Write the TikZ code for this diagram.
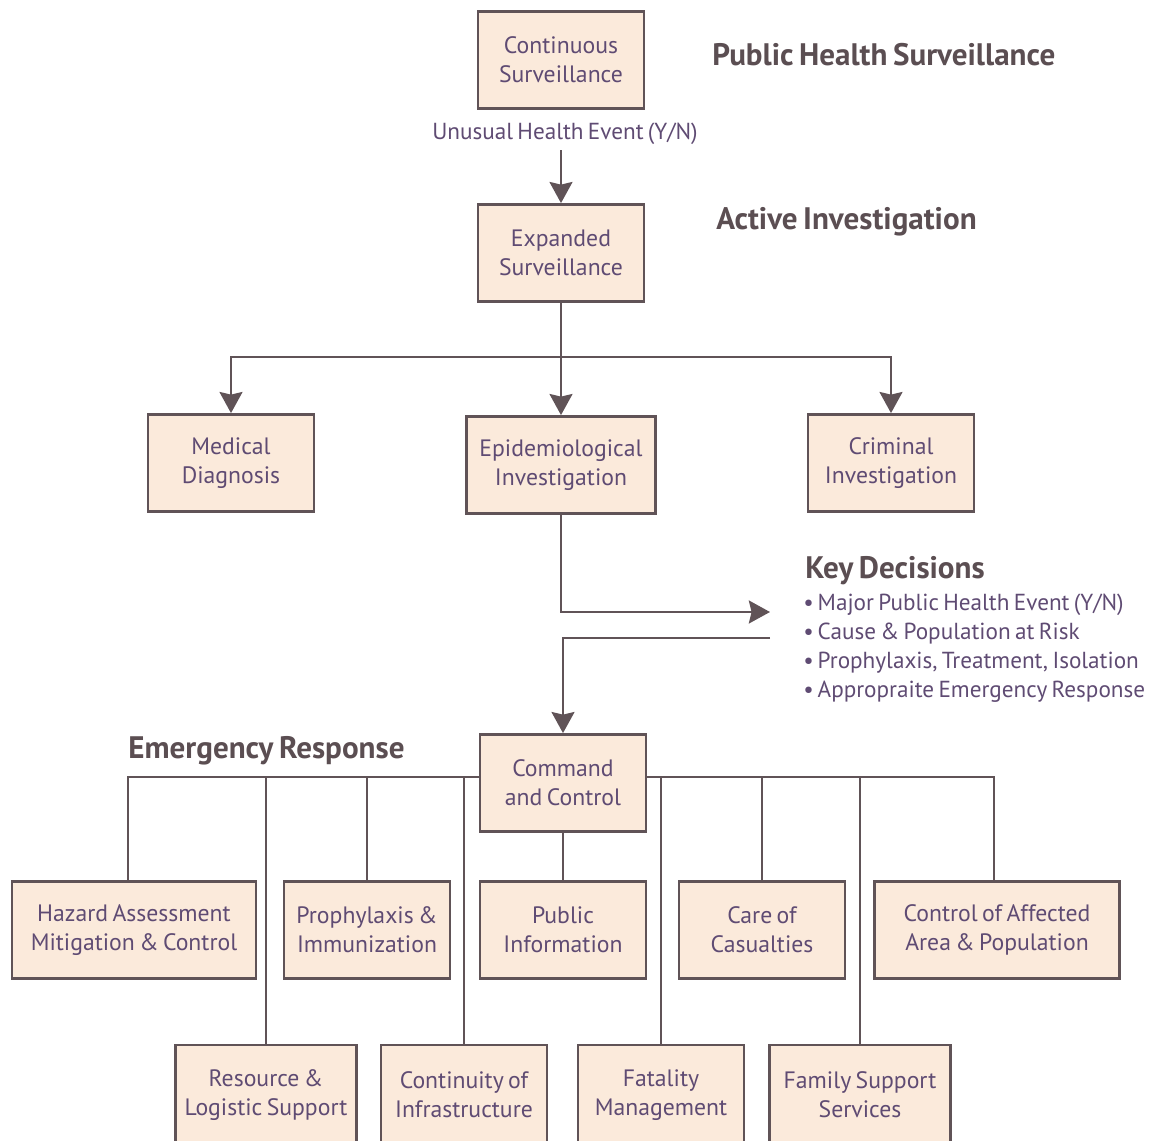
\documentclass[tikz,border=0pt]{standalone}
\usepackage{fontspec}
\setmainfont{PT Sans}[WordSpace=0.7]
\usetikzlibrary{arrows.meta}
\usetikzlibrary{positioning}
\usetikzlibrary{calc}
\usetikzlibrary{backgrounds}

\definecolor{boxfill}{HTML}{FBEADB}
\definecolor{boxline}{HTML}{605357}
\definecolor{boxtext}{HTML}{5F4B73}
\definecolor{headtext}{HTML}{5B4E52}

\begin{document}
\begin{tikzpicture} [x=0.02cm, y=-0.02cm,
      box/.style={draw=boxline, fill=boxfill, line width=1.6pt, text=boxtext,
          align=center, minimum width=3.32cm, minimum height=1.94cm, inner sep=0pt,
          font=\fontsize{13.5}{16.5}\selectfont},
      heading/.style={anchor=west, text=headtext, inner sep=0pt,
          font=\fontsize{17.7}{21}\selectfont\bfseries},
      plain/.style={text=boxtext, inner sep=0pt, font=\fontsize{13.2}{16.5}\selectfont},
      link/.style={draw=boxline, line width=1.6pt},
      arr/.style={link, -{Stealth[inset=1.5pt, length=12pt, width=13pt]}}]
    \useasboundingbox (0,0) rectangle (1159,1141);

    % surveillance
    \node[box] (cont) at (561,60) {Continuous\\Surveillance};
    \node[plain] (unusual) at (565,134) {Unusual Health Event (Y/N)};
    \node[heading] (phs) at (712,55) {Public Health Surveillance};
    \node[box] (exp) at (561,253) {Expanded\\Surveillance};
    \node[heading] (ai) at (716,222) {Active Investigation};

    % investigation
    \node[box] (med) at (231,463) {Medical\\Diagnosis};
    \node[box, minimum width=3.78cm] (epi) at (561,465) {Epidemiological\\Investigation};
    \node[box] (crim) at (891,463) {Criminal\\Investigation};

    % key decisions
    \node[heading] (kd) at (805,571) {Key Decisions};
    \node[plain, anchor=north west, align=left] (kdlist) at (803,594)
        {\textbullet\,Major Public Health Event (Y/N)\\
         \textbullet\,Cause \& Population at Risk\\
         \textbullet\,Prophylaxis, Treatment, Isolation\\
         \textbullet\,Appropraite Emergency Response};
    \coordinate (kin) at (770,612);
    \coordinate (kout) at (770,638);

    % emergency response
    \node[heading] (er) at (128,751) {Emergency Response};
    \node[box] (cmd) at (563,783) {Command\\and Control};
    \coordinate (bus) at (563,777);
    \node[box, minimum width=4.88cm] (hazard) at (134,930) {Hazard Assessment\\Mitigation \& Control};
    \node[box] (proph) at (367,930) {Prophylaxis \&\\Immunization};
    \node[box] (pubinfo) at (563,930) {Public\\Information};
    \node[box] (care) at (762,930) {Care of\\Casualties};
    \node[box, minimum width=4.9cm] (control) at (997,930) {Control of Affected\\Area \& Population};
    \node[box, minimum width=3.62cm, minimum height=2cm] (resource) at (266,1095) {Resource \&\\Logistic Support};
    \node[box, minimum height=2cm] (contin) at (464,1095) {Continuity of\\Infrastructure};
    \node[box, minimum height=2cm] (fatal) at (661,1095) {Fatality\\Management};
    \node[box, minimum width=3.62cm, minimum height=2cm] (family) at (860,1095) {Family Support\\Services};

    \begin{scope}[on background layer]
      \draw[arr] ([yshift=-3]unusual.south -| exp.north) -- (exp.north);
      \coordinate (split) at (561,357);
      \draw[link] (exp.south) -- (split);
      \draw[arr] (split) -| (med.north);
      \draw[arr] (split) -| (crim.north);
      \draw[arr] (split) -- (epi.north);
      \draw[arr] (epi.south) |- (kin);
      \draw[arr] (kout) -| (cmd.north);
      \draw[link] ([xshift=-0.12cm]hazard.north) |- (bus) -| ([xshift=-0.06cm]control.north);
      \foreach \n in {resource, proph, contin, fatal, care, family}
        \draw[link] (\n.north) -- (\n.north |- bus);
      \draw[link] (cmd.south) -- (pubinfo.north);
    \end{scope}
\end{tikzpicture}
\end{document}
